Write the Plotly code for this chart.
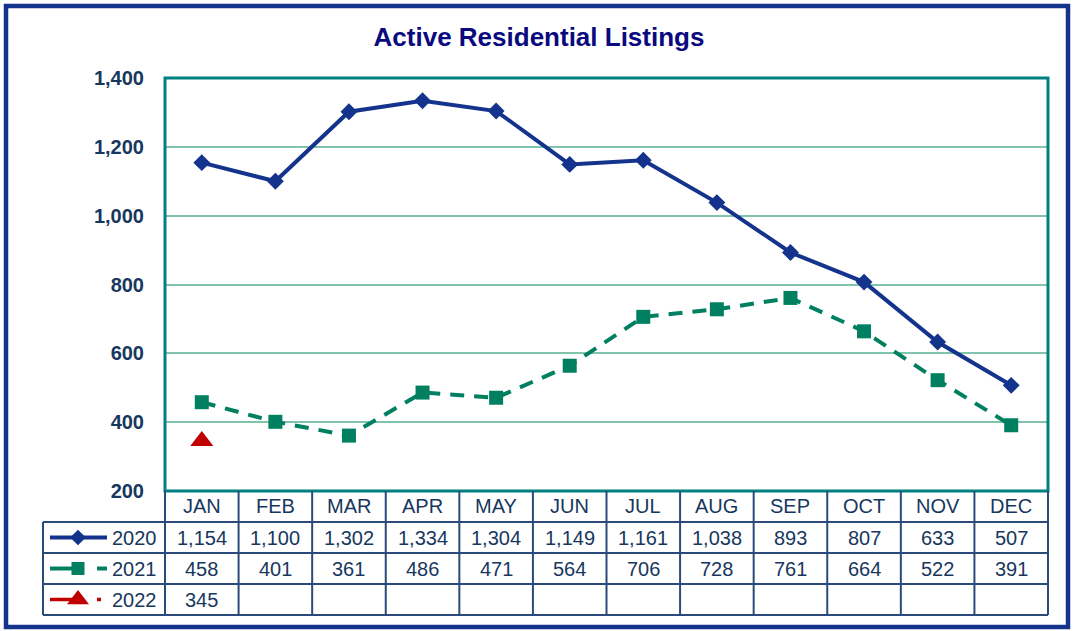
import plotly.graph_objects as go

# ---------------- data ----------------
months = ["JAN", "FEB", "MAR", "APR", "MAY", "JUN", "JUL", "AUG", "SEP", "OCT", "NOV", "DEC"]
series_names = ["2020", "2021", "2022"]
vals_2020 = [1154, 1100, 1302, 1334, 1304, 1149, 1161, 1038, 893, 807, 633, 507]
vals_2021 = [458, 401, 361, 486, 471, 564, 706, 728, 761, 664, 522, 391]
vals_2022 = [345]
y_ticks = [200, 400, 600, 800, 1000, 1200, 1400]

# ---------------- style ----------------
W, H = 1073, 631
NAVY = "#14338c"
GREEN = "#008060"
RED = "#c00000"
TEAL = "#008080"
GRID = "#80c4ac"
TXT = "#17375e"
TBL = "#2a4a7a"
FONT = "Liberation Sans, Arial, sans-serif"

def X(px):
    return px / W

def Y(py):
    return 1 - py / H

PL, PR, PT, PB = 165, 1048, 78, 491  # plot area in pixels
ROWS = [491, 522, 553, 584, 615]
KEY_L = 43

series = [
    dict(name=series_names[0], y=vals_2020, color=NAVY, dash="solid", symbol="diamond", size=13, width=4),
    dict(name=series_names[1], y=vals_2021, color=GREEN, dash="14px,10px", symbol="square", size=14, width=4),
    dict(name=series_names[2], y=vals_2022, color=RED, dash="dot", symbol="triangle-up", size=20, width=3.5),
]

fig = go.Figure()
for s in series:
    fig.add_trace(go.Scatter(
        x=months[:len(s["y"])], y=s["y"], name=s["name"], mode="lines+markers",
        line=dict(color=s["color"], width=s["width"], dash=s["dash"]),
        marker=dict(symbol=s["symbol"], size=s["size"], color=s["color"]),
        xaxis="x", yaxis="y", showlegend=False,
    ))

shapes = []
annotations = []

# outer frame
shapes.append(dict(type="rect", xref="paper", yref="paper", x0=X(6), x1=X(1068), y0=Y(6), y1=Y(627),
                   line=dict(color=NAVY, width=4.5), layer="above"))

# plot border
shapes.append(dict(type="rect", xref="paper", yref="paper", x0=X(PL), x1=X(PR), y0=Y(PB), y1=Y(PT),
                   line=dict(color=TEAL, width=3), layer="above"))

# table grid
ncol = len(months)
colw = (PR - PL) / ncol
for i in range(1, len(ROWS)):
    shapes.append(dict(type="line", xref="paper", yref="paper", x0=X(KEY_L), x1=X(PR),
                       y0=Y(ROWS[i]), y1=Y(ROWS[i]), line=dict(color=TBL, width=2)))
for i in range(ncol + 1):
    xx = PL + i * colw
    shapes.append(dict(type="line", xref="paper", yref="paper", x0=X(xx), x1=X(xx),
                       y0=Y(ROWS[0]), y1=Y(ROWS[-1]), line=dict(color=TBL, width=2)))
shapes.append(dict(type="line", xref="paper", yref="paper", x0=X(KEY_L), x1=X(KEY_L),
                   y0=Y(ROWS[1]), y1=Y(ROWS[-1]), line=dict(color=TBL, width=2)))

# header months
for i, m in enumerate(months):
    annotations.append(dict(x=X(PL + (i + 0.5) * colw), y=Y((ROWS[0] + ROWS[1]) / 2), xref="paper", yref="paper",
                            text=m, showarrow=False, xanchor="center", yanchor="middle",
                            font=dict(family=FONT, size=20, color=TXT)))

# table values + legend keys
for r, s in enumerate(series):
    cy = (ROWS[r + 1] + ROWS[r + 2]) / 2
    for i, v in enumerate(s["y"]):
        annotations.append(dict(x=X(PL + (i + 0.5) * colw), y=Y(cy), xref="paper", yref="paper",
                                text=f"{v:,}", showarrow=False, xanchor="center", yanchor="middle",
                                font=dict(family=FONT, size=20, color=TXT)))
    annotations.append(dict(x=X(159), y=Y(cy), xref="paper", yref="paper", text=s["name"],
                            showarrow=False, xanchor="right", yanchor="middle",
                            font=dict(family=FONT, size=20, color=TXT)))
    if s["dash"] == "solid":
        segs = [(50, 107)]
    elif s["dash"] == "dot":
        segs = [(50, 74), (97, 101)]
    else:
        segs = [(50, 73), (97, 107)]
    for a, b in segs:
        shapes.append(dict(type="line", xref="paper", yref="paper", x0=X(a), x1=X(b), y0=Y(cy), y1=Y(cy),
                           line=dict(color=s["color"], width=s["width"])))
    fig.add_trace(go.Scatter(x=[78], y=[cy], mode="markers", xaxis="x2", yaxis="y2", showlegend=False,
                             marker=dict(symbol=s["symbol"], size=s["size"] - 1, color=s["color"]),
                             hoverinfo="skip", cliponaxis=False))

fig.update_layout(
    width=W, height=H, autosize=False,
    margin=dict(l=0, r=0, t=0, b=0, pad=0, autoexpand=False),
    paper_bgcolor="white", plot_bgcolor="white",
    showlegend=False,
    title=dict(text="<b>Active Residential Listings</b>", x=X(539), y=Y(37), xanchor="center", yanchor="middle",
               font=dict(family=FONT, size=26, color="#0a0a80")),
    xaxis=dict(domain=[X(PL), X(PR)], type="category", categoryarray=months, range=[-0.5, ncol - 0.5],
               showticklabels=False, showgrid=False, zeroline=False, showline=False, fixedrange=True),
    yaxis=dict(domain=[Y(PB), Y(PT)], range=[y_ticks[0], y_ticks[-1]], tickvals=y_ticks,
               ticktext=[f"<b>{t:,}</b>" for t in y_ticks], showgrid=True, gridcolor=GRID, gridwidth=1.5,
               zeroline=False, showline=False, ticks="", ticklabelstandoff=20,
               tickfont=dict(family=FONT, size=20, color=TXT)),
    xaxis2=dict(domain=[X(KEY_L), X(PL)], range=[KEY_L, PL], visible=False, anchor="y2", showgrid=False),
    yaxis2=dict(domain=[Y(ROWS[-1]), Y(ROWS[1])], range=[ROWS[-1], ROWS[1]], visible=False, anchor="x2",
                showgrid=False),
    shapes=shapes, annotations=annotations,
)

fig.write_html("out.html", config={"displayModeBar": False},
               post_script="document.body.style.margin='0';document.body.style.overflow='hidden';")
